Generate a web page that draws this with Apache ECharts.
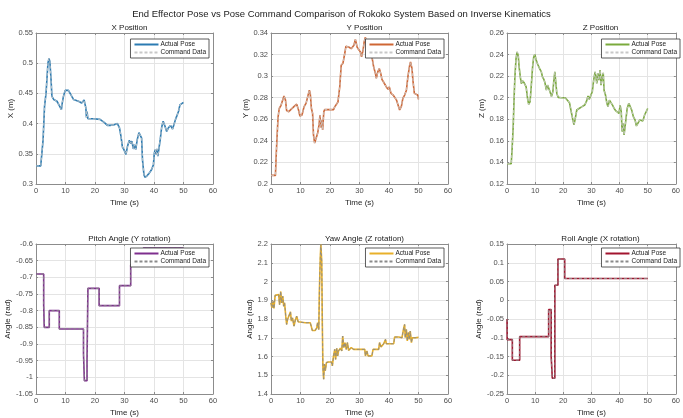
<!DOCTYPE html>
<html>
<head>
<meta charset="utf-8">
<script src="https://cdn.jsdelivr.net/npm/echarts@6/dist/echarts.min.js"></script>
<style>
  html, body { margin: 0; padding: 0; background: #fff; }
  #chart { width: 683px; height: 418px; }
</style>
</head>
<body>
<div id="chart"></div>
<script>
// 数据：[时间(s), 数值]
const xPosition = [
  [0, 0.33], [1.6, 0.33], [2.4, 0.373], [2.9, 0.429], [3.4, 0.45], [4.05, 0.5], [4.4, 0.508],
  [4.7, 0.503], [5.1, 0.473], [5.4, 0.445], [6.0, 0.44], [7.1, 0.437], [8.0, 0.429], [8.6, 0.423],
  [8.9, 0.434], [9.3, 0.445], [9.9, 0.455], [11.0, 0.455], [11.8, 0.448], [12.7, 0.44], [14.4, 0.437],
  [15.5, 0.434], [16.3, 0.439], [16.9, 0.426], [17.1, 0.41], [17.3, 0.42], [17.6, 0.408], [19.5, 0.408],
  [21.7, 0.407], [23.1, 0.402], [24.2, 0.397], [25.1, 0.397], [26.5, 0.398], [27.6, 0.4], [28.3, 0.393],
  [28.8, 0.379], [29.3, 0.361], [29.8, 0.357], [30.5, 0.349], [31.0, 0.362], [31.6, 0.372], [32.2, 0.367],
  [32.5, 0.371], [33.0, 0.358], [33.3, 0.365], [33.8, 0.357], [34.3, 0.373], [34.9, 0.385], [35.5, 0.385],
  [35.8, 0.376], [36.1, 0.34], [36.6, 0.315], [37.0, 0.311], [37.7, 0.314], [38.4, 0.318], [39.2, 0.324],
  [39.8, 0.332], [40.1, 0.351], [40.4, 0.357], [40.7, 0.349], [41.0, 0.358], [41.3, 0.346], [41.8, 0.345],
  [42.1, 0.373], [42.6, 0.394], [43.1, 0.404], [43.7, 0.396], [44.3, 0.387], [44.9, 0.393], [45.6, 0.397],
  [46.3, 0.391], [46.7, 0.394], [47.3, 0.407], [47.9, 0.408], [48.3, 0.42], [48.8, 0.431], [49.3, 0.431],
  [50.0, 0.435]
];

const yPosition = [
  [0, 0.208], [1.5, 0.208], [1.7, 0.2225], [2.0, 0.241], [2.4, 0.262], [2.8, 0.27], [3.4, 0.273],
  [4.0, 0.274], [4.4, 0.2815], [4.9, 0.278], [5.3, 0.268], [6.0, 0.267], [6.7, 0.269], [7.5, 0.271],
  [8.0, 0.27], [8.7, 0.274], [9.3, 0.269], [9.8, 0.263], [10.5, 0.264], [11.2, 0.2715], [11.9, 0.275],
  [12.4, 0.276], [13.0, 0.287], [13.3, 0.284], [13.7, 0.27], [14.1, 0.2655], [14.4, 0.2455], [14.8, 0.238],
  [15.4, 0.238], [15.8, 0.247], [16.3, 0.255], [16.6, 0.264], [16.9, 0.2525], [17.3, 0.259], [17.5, 0.25],
  [17.9, 0.267], [18.2, 0.269], [19.5, 0.269], [21.2, 0.269], [21.6, 0.2715], [22.1, 0.273], [22.7, 0.276],
  [23.3, 0.29], [23.8, 0.31], [24.4, 0.312], [25.0, 0.321], [25.4, 0.3277], [26.3, 0.327], [27.2, 0.3255],
  [27.7, 0.324], [28.1, 0.3286], [28.6, 0.334], [29.2, 0.327], [29.7, 0.3246], [30.3, 0.3225], [30.7, 0.318],
  [31.2, 0.324], [31.6, 0.332], [32.0, 0.336], [32.5, 0.3286], [33.1, 0.3255], [33.7, 0.324], [34.2, 0.318],
  [34.8, 0.3086], [35.4, 0.3025], [35.7, 0.298], [36.2, 0.304], [36.7, 0.307], [37.2, 0.3025], [37.6, 0.297],
  [38.1, 0.2948], [38.5, 0.2963], [39.1, 0.29], [39.7, 0.2877], [40.1, 0.29], [40.7, 0.284], [41.4, 0.2825],
  [41.9, 0.284], [42.5, 0.278], [43.1, 0.273], [43.6, 0.2686], [44.2, 0.272], [44.7, 0.2794], [45.3, 0.2825],
  [45.9, 0.287], [46.4, 0.2994], [47.0, 0.31], [47.3, 0.3132], [47.8, 0.307], [48.1, 0.2963], [48.6, 0.284],
  [49.2, 0.2834], [49.7, 0.2825], [50.0, 0.2785]
];

const zPosition = [
  [0, 0.1388], [1.5, 0.1388], [1.8, 0.1517], [2.2, 0.173], [2.5, 0.198], [2.8, 0.219], [3.2, 0.236],
  [3.6, 0.2425], [4.0, 0.239], [4.3, 0.2286], [4.8, 0.218], [5.1, 0.213], [5.5, 0.2157], [6.1, 0.2138],
  [6.8, 0.21], [7.3, 0.1994], [7.7, 0.1938], [8.2, 0.1963], [8.6, 0.21], [9.1, 0.2286], [9.5, 0.238],
  [9.9, 0.2403], [10.3, 0.2354], [10.9, 0.231], [11.6, 0.227], [12.2, 0.224], [12.6, 0.2194], [13.1, 0.217],
  [13.5, 0.2138], [14.0, 0.207], [14.4, 0.2117], [14.9, 0.2108], [15.3, 0.2055], [15.8, 0.201], [16.3, 0.2055],
  [16.6, 0.2148], [17.0, 0.224], [17.4, 0.2225], [17.7, 0.204], [18.2, 0.2003], [19.3, 0.2], [20.7, 0.2],
  [21.4, 0.1978], [22.2, 0.1954], [22.7, 0.1886], [23.3, 0.1809], [23.8, 0.1748], [24.2, 0.18], [24.8, 0.1886],
  [25.6, 0.19], [26.7, 0.1917], [27.6, 0.1932], [28.2, 0.1963], [28.8, 0.2015], [29.2, 0.1985], [29.8, 0.1978],
  [30.3, 0.2055], [30.8, 0.2163], [31.3, 0.224], [31.6, 0.2194], [31.9, 0.2132], [32.3, 0.2225], [32.6, 0.2163],
  [33.1, 0.2255], [33.4, 0.2117], [33.75, 0.2178], [34.2, 0.223], [34.5, 0.207], [35.0, 0.2025], [35.5, 0.1948],
  [35.9, 0.1917], [36.4, 0.1978], [36.9, 0.1994], [37.5, 0.1932], [38.1, 0.19], [38.6, 0.188], [39.2, 0.1871],
  [39.8, 0.1855], [40.2, 0.1932], [40.6, 0.1871], [40.9, 0.1686], [41.3, 0.1763], [41.6, 0.1655], [41.9, 0.1717],
  [42.3, 0.1809], [42.7, 0.19], [43.3, 0.1948], [43.9, 0.1963], [44.3, 0.1886], [44.9, 0.1825], [45.5, 0.1794],
  [46.0, 0.1738], [46.6, 0.1732], [47.2, 0.1794], [47.7, 0.1778], [48.3, 0.1785], [48.9, 0.184], [49.5, 0.1855],
  [50.0, 0.19]
];

// 阶跃数据：[切换时刻, 新值]
const pitchAngle = [
  [0, -0.69], [2.6, -0.782], [2.8, -0.85], [4.5, -0.8], [7.9, -0.855], [16.1, -0.93], [16.4, -1.01],
  [17.3, -0.95], [17.6, -0.733], [21.4, -0.785], [28.3, -0.725], [32.1, -0.662], [36.4, -0.612], [50.0, -0.612]
];

const yawAngle = [
  [0, 1.886], [0.3, 1.86], [0.7, 1.894], [1.0, 1.856], [1.4, 1.926], [2.0, 1.933], [2.6, 1.93], [2.9, 1.877],
  [3.3, 1.947], [3.6, 1.886], [4.0, 1.921], [4.3, 1.868], [4.6, 1.886], [5.0, 1.815], [5.3, 1.771], [5.6, 1.797],
  [6.2, 1.797], [6.6, 1.838], [6.9, 1.789], [7.3, 1.806], [7.8, 1.762], [8.2, 1.792], [8.7, 1.815], [9.2, 1.785],
  [9.6, 1.78], [11.6, 1.78], [13.3, 1.78], [13.7, 1.758], [14.0, 1.739], [15.0, 1.739], [15.5, 1.753], [15.8, 1.78],
  [16.2, 1.744], [16.4, 1.947], [16.7, 2.124], [16.9, 2.2], [17.2, 2.106], [17.4, 1.771], [17.6, 1.541],
  [17.85, 1.479], [18.1, 1.559], [18.4, 1.524], [18.8, 1.568], [19.5, 1.571], [20.5, 1.571], [20.8, 1.55],
  [21.2, 1.603], [21.6, 1.638], [21.9, 1.585], [22.3, 1.644], [22.6, 1.603], [22.9, 1.63], [23.5, 1.644],
  [24.0, 1.63], [24.3, 1.709], [24.7, 1.647], [25.1, 1.674], [25.5, 1.638], [25.9, 1.674], [26.3, 1.633],
  [27.2, 1.647], [28.0, 1.638], [29.7, 1.638], [31.8, 1.638], [32.0, 1.603], [32.5, 1.63], [32.9, 1.603],
  [34.2, 1.603], [34.6, 1.638], [36.5, 1.638], [36.8, 1.674], [37.3, 1.651], [38.2, 1.668], [38.8, 1.691],
  [39.1, 1.668], [41.6, 1.668], [41.9, 1.704], [43.3, 1.704], [44.4, 1.7], [45.0, 1.753], [45.3, 1.771],
  [45.5, 1.7], [45.9, 1.744], [46.2, 1.683], [46.6, 1.727], [46.9, 1.691], [47.2, 1.735], [47.6, 1.674],
  [47.9, 1.7], [48.9, 1.7], [50.0, 1.702]
];

const rollAngle = [
  [0, -0.05], [0.05, -0.105], [1.9, -0.16], [4.5, -0.097], [14.8, -0.025], [15.7, -0.15], [16.1, -0.208],
  [17.0, 0.04], [18.1, 0.11], [20.5, 0.058], [50.0, 0.058]
];

// 指令数据与实际位姿在图上重合，读数相同
const xCommand = xPosition, yCommand = yPosition, zCommand = zPosition;
const pitchCommand = pitchAngle, yawCommand = yawAngle, rollCommand = rollAngle;

const timeTicks = { min: 0, max: 60, interval: 10 };
const FONT = 'Liberation Sans, Arial, Helvetica, sans-serif';

const panels = [
  { title: 'X Position', yName: 'X (m)', act: xPosition, cmd: xCommand, color: '#2b7bb2', cmdColor: '#c8c8c8',
    min: 0.3, max: 0.55, interval: 0.05, left: 36, top: 33, nameGap: 20 },
  { title: 'Y Position', yName: 'Y (m)', act: yPosition, cmd: yCommand, color: '#cf6634', cmdColor: '#c8c8c8',
    min: 0.2, max: 0.34, interval: 0.02, left: 271, top: 33, nameGap: 20 },
  { title: 'Z Position', yName: 'Z (m)', act: zPosition, cmd: zCommand, color: '#7aaa3c', cmdColor: '#c8c8c8',
    min: 0.12, max: 0.26, interval: 0.02, left: 507, top: 33, nameGap: 21 },
  { title: 'Pitch Angle (Y rotation)', yName: 'Angle (rad)', act: pitchAngle, cmd: pitchCommand, color: '#7e2f8e',
    cmdColor: '#8a8a8a', min: -1.05, max: -0.6, interval: 0.05, left: 36, top: 244, nameGap: 21, step: 'end' },
  { title: 'Yaw Angle (Z rotation)', yName: 'Angle (rad)', act: yawAngle, cmd: yawCommand, color: '#e8b02a',
    cmdColor: '#8a8a8a', min: 1.4, max: 2.2, interval: 0.1, left: 271, top: 244, nameGap: 16 },
  { title: 'Roll Angle (X rotation)', yName: 'Angle (rad)', act: rollAngle, cmd: rollCommand, color: '#a2142f',
    cmdColor: '#8a8a8a', min: -0.25, max: 0.15, interval: 0.05, left: 507, top: 244, nameGap: 23, step: 'end' }
];

const W = 177, H = 151;
const frameColor = '#8c8c8c';

let grid = [], xAxis = [], yAxis = [], title = [], legend = [], series = [];

title.push({
  text: 'End Effector Pose vs Pose Command Comparison of Rokoko System Based on Inverse Kinematics',
  left: 'center', top: 4,
  textStyle: { fontFamily: FONT, fontSize: 9.5, fontWeight: 'normal', color: '#1a1a1a' }
});

panels.forEach((p, i) => {
  grid.push({ left: p.left, top: p.top, width: W, height: H, show: false });

  title.push({
    text: p.title, left: p.left + W / 2, top: p.top - 14, textAlign: 'center',
    textStyle: { fontFamily: FONT, fontSize: 8, fontWeight: 'normal', color: '#1a1a1a' }
  });

  // 底部 x 轴（带标签）+ 顶部 x 轴（只画刻度）
  xAxis.push({
    type: 'value', gridIndex: i, position: 'bottom', min: timeTicks.min, max: timeTicks.max, interval: timeTicks.interval,
    name: 'Time (s)', nameLocation: 'middle', nameGap: 15,
    nameTextStyle: { fontFamily: FONT, fontSize: 8, color: '#262626' },
    axisLine: { show: true, onZero: false, lineStyle: { color: frameColor, width: 1 } },
    axisTick: { show: true, inside: true, length: 2, lineStyle: { color: frameColor } },
    axisLabel: { fontFamily: FONT, fontSize: 7.5, color: '#4d4d4d', margin: 3 },
    splitLine: { show: true, lineStyle: { color: '#e4e4e4', width: 1 } }
  });
  xAxis.push({
    type: 'value', gridIndex: i, position: 'top', min: timeTicks.min, max: timeTicks.max, interval: timeTicks.interval,
    axisLine: { show: true, onZero: false, lineStyle: { color: frameColor, width: 1 } },
    axisTick: { show: true, inside: true, length: 2, lineStyle: { color: frameColor } },
    axisLabel: { show: false }, splitLine: { show: false }
  });

  yAxis.push({
    type: 'value', gridIndex: i, position: 'left', min: p.min, max: p.max, interval: p.interval,
    name: p.yName, nameLocation: 'middle', nameGap: p.nameGap,
    nameTextStyle: { fontFamily: FONT, fontSize: 8, color: '#262626' },
    axisLine: { show: true, onZero: false, lineStyle: { color: frameColor, width: 1 } },
    axisTick: { show: true, inside: true, length: 2, lineStyle: { color: frameColor } },
    axisLabel: { fontFamily: FONT, fontSize: 7.5, color: '#4d4d4d', margin: 3,
      formatter: v => String(+v.toFixed(4)) },
    splitLine: { show: true, lineStyle: { color: '#e4e4e4', width: 1 } }
  });
  yAxis.push({
    type: 'value', gridIndex: i, position: 'right', min: p.min, max: p.max, interval: p.interval,
    axisLine: { show: true, onZero: false, lineStyle: { color: frameColor, width: 1 } },
    axisTick: { show: true, inside: true, length: 2, lineStyle: { color: frameColor } },
    axisLabel: { show: false }, splitLine: { show: false }
  });

  const actName = 'act' + i, cmdName = 'cmd' + i;
  series.push({
    name: actName, type: 'line', xAxisIndex: i * 2, yAxisIndex: i * 2, data: p.act,
    symbol: 'none', step: p.step || false, animation: false, z: 2,
    lineStyle: { color: p.color, width: 1.6 }, itemStyle: { color: p.color }
  });
  series.push({
    name: cmdName, type: 'line', xAxisIndex: i * 2, yAxisIndex: i * 2, data: p.cmd,
    symbol: 'none', step: p.step || false, animation: false, z: 3,
    lineStyle: { color: p.cmdColor, width: 0.9, type: [3, 2] }, itemStyle: { color: p.cmdColor }
  });

  legend.push({
    data: [actName, cmdName], orient: 'vertical', selectedMode: false,
    right: 683 - (p.left + W - 4), top: p.top + (i < 3 ? 6 : 4),
    itemWidth: 24, itemHeight: 7, itemGap: 1, padding: [2, 3, 2, 3],
    itemStyle: { opacity: 0, borderWidth: 0 },
    backgroundColor: '#fff', borderColor: '#333', borderWidth: 0.8, borderRadius: 0,
    textStyle: { fontFamily: FONT, fontSize: 6.5, color: '#1a1a1a', padding: [0, 0, 0, -3] },
    formatter: n => n.startsWith('act') ? 'Actual Pose' : 'Command Data'
  });
});

const chart = echarts.init(document.getElementById('chart'), null, { renderer: 'canvas' });
chart.setOption({
  animation: false,
  backgroundColor: '#fff',
  title, grid, xAxis, yAxis, legend, series
});
</script>
</body>
</html>
